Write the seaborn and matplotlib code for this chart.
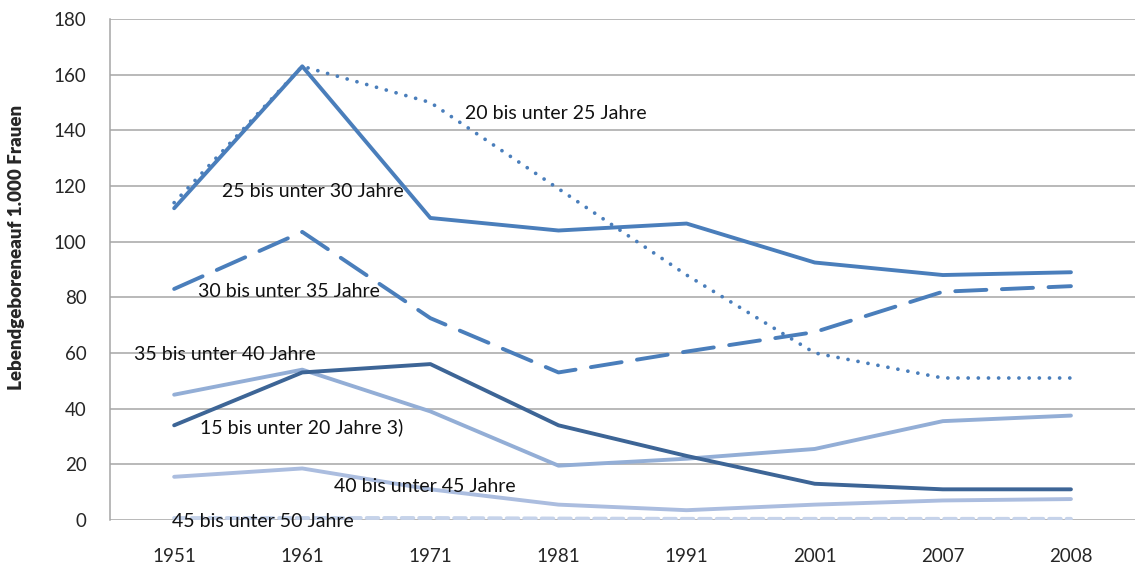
import pandas as pd
import numpy as np
import matplotlib
matplotlib.use("Agg")
import matplotlib.pyplot as plt
import seaborn as sns

# Data
years = ["1951", "1961", "1971", "1981", "1991", "2001", "2007", "2008"]
age_15_20 = [34, 53, 56, 34, 23, 13, 11, 11]
age_20_25 = [114, 163, 150, 119, 88, 60, 51, 51]
age_25_30 = [112, 163, 108.5, 104, 106.5, 92.5, 88, 89]
age_30_35 = [83, 103.5, 72.5, 53, 60.5, 67.5, 82, 84]
age_35_40 = [45, 54, 39, 19.5, 22, 25.5, 35.5, 37.5]
age_40_45 = [15.5, 18.5, 11, 5.5, 3.5, 5.5, 7, 7.5]
age_45_50 = [0.7, 0.7, 0.7, 0.5, 0.4, 0.4, 0.4, 0.4]

labels = ["45 bis unter 50 Jahre", "40 bis unter 45 Jahre", "35 bis unter 40 Jahre",
          "15 bis unter 20 Jahre 3)", "30 bis unter 35 Jahre", "20 bis unter 25 Jahre",
          "25 bis unter 30 Jahre"]
values = [age_45_50, age_40_45, age_35_40, age_15_20, age_30_35, age_20_25, age_25_30]

colors = {
    "45 bis unter 50 Jahre": "#C6D3EA",
    "40 bis unter 45 Jahre": "#ABBDDF",
    "35 bis unter 40 Jahre": "#93AED6",
    "15 bis unter 20 Jahre 3)": "#3D6596",
    "30 bis unter 35 Jahre": "#4A7EBB",
    "20 bis unter 25 Jahre": "#4A7EBB",
    "25 bis unter 30 Jahre": "#4A7EBB",
}
dashes = {
    "45 bis unter 50 Jahre": (0, (3, 1.5)),
    "30 bis unter 35 Jahre": (0, (8, 4)),
    "20 bis unter 25 Jahre": (0, (0.01, 2.7)),
}

# label positions (x index, y value)
label_pos = {
    "20 bis unter 25 Jahre": (2.27, 146),
    "25 bis unter 30 Jahre": (0.37, 118),
    "30 bis unter 35 Jahre": (0.19, 82),
    "35 bis unter 40 Jahre": (-0.31, 59.5),
    "15 bis unter 20 Jahre 3)": (0.2, 33.5),
    "40 bis unter 45 Jahre": (1.25, 12),
    "45 bis unter 50 Jahre": (-0.02, -0.5),
}

rows = []
for lab, vals in zip(labels, values):
    for i, v in enumerate(vals):
        rows.append({"Jahr": i, "Wert": v, "Gruppe": lab})
df = pd.DataFrame(rows)

sns.set_style("white")
plt.rcParams["font.family"] = ["Lato", "DejaVu Sans"]

fig = plt.figure(figsize=(11.35, 5.67), dpi=100)
ax = fig.add_axes([0.097, 0.083, 0.903, 0.8835])

for lab in labels:
    sub = df[df["Gruppe"] == lab]
    ls = dashes.get(lab, "-")
    lw = 2.7 if lab == "20 bis unter 25 Jahre" else 2.8
    sns.lineplot(data=sub, x="Jahr", y="Wert", color=colors[lab], linewidth=lw,
                 linestyle=ls, ax=ax, legend=False, zorder=3)
    if ls != "-":
        ax.lines[-1].set_dash_capstyle("round")

for lab, (x, y) in label_pos.items():
    ax.text(x, y, lab, fontsize=14, color="#111111", va="center", ha="left", zorder=4)

ax.set_xlim(-0.5, 7.5)
ax.set_ylim(0, 180)
ax.set_yticks(np.arange(0, 181, 20))
ax.set_xticks(range(len(years)))
ax.set_xticklabels(years)
ax.yaxis.grid(True, color="#A6A6A6", linewidth=1.1, zorder=0)
ax.xaxis.grid(False)
for s in ["top", "right", "bottom"]:
    ax.spines[s].set_visible(False)
ax.spines["left"].set_color("#A6A6A6")
ax.spines["left"].set_linewidth(1.1)
ax.tick_params(axis="y", length=5, color="#A6A6A6", width=1.1, labelsize=13.5, pad=12)
ax.tick_params(axis="x", length=0, labelsize=13.5, pad=20)
ax.set_xlabel("")
ax.set_ylabel("Lebendgeboreneauf 1.000 Frauen", fontsize=13.5, fontweight="heavy")
ax.yaxis.set_label_coords(-0.083, 0.543)

plt.savefig("out.png", dpi=100)
